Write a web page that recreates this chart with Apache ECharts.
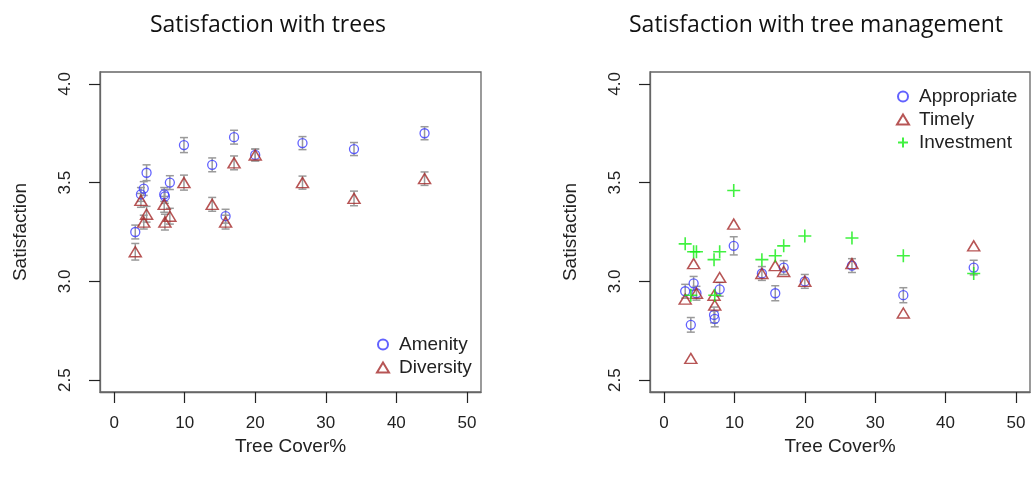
<!DOCTYPE html>
<html>
<head>
<meta charset="utf-8">
<script src="https://cdn.jsdelivr.net/npm/echarts@6/dist/echarts.min.js"></script>
<style>
  html, body { margin: 0; padding: 0; background: #fff; }
  #chart { width: 1031px; height: 487px; }
</style>
</head>
<body>
<div id="chart"></div>
<script>
// tree cover (%) of the 15 sites, shared by both panels
const treeCover = [3.0, 3.8, 4.2, 4.6, 7.1, 7.2, 7.9, 9.9, 13.9, 15.8, 17.0, 20.0, 26.7, 34.0, 44.0];

// left panel: satisfaction with trees
const amenity   = [3.25, 3.44, 3.47, 3.55, 3.44, 3.43, 3.50, 3.69, 3.59, 3.33, 3.73, 3.64, 3.70, 3.67, 3.75];
const amenityErr = [0.035, 0.035, 0.035, 0.04, 0.035, 0.035, 0.035, 0.038, 0.035, 0.035, 0.035, 0.03, 0.033, 0.033, 0.033];
const diversity = [3.15, 3.41, 3.30, 3.34, 3.39, 3.30, 3.33, 3.50, 3.39, 3.30, 3.60, 3.64, 3.50, 3.42, 3.52];
const diversityErr = [0.042, 0.035, 0.035, 0.04, 0.04, 0.04, 0.04, 0.038, 0.035, 0.035, 0.035, 0.03, 0.033, 0.037, 0.034];

// right panel: satisfaction with tree management
const appropriate = [2.95, 2.78, 2.99, 2.94, 2.83, 2.81, 2.96, 3.18, 3.04, 2.94, 3.07, 3.00, 3.08, 2.93, 3.07];
const appropriateErr = [0.035, 0.037, 0.035, 0.035, 0.04, 0.04, 0.035, 0.046, 0.035, 0.038, 0.035, 0.035, 0.035, 0.038, 0.037];
const timely     = [2.91, 2.61, 3.09, 2.94, 2.93, 2.88, 3.02, 3.29, 3.04, 3.08, 3.05, 3.00, 3.09, 2.84, 3.18];
const investment = [3.19, 2.93, 3.15, 3.15, 3.11, 2.93, 3.15, 3.46, 3.11, 3.13, 3.18, 3.23, 3.22, 3.13, 3.04];

const xTicks = [0, 10, 20, 30, 40, 50];
const yTicks = [2.5, 3.0, 3.5, 4.0];

const BLUE = '#3b3bff';
const RED = '#a52a2a';
const GREEN = '#11ee11';
const labelFont = 'Liberation Sans';

const pts = (ys) => treeCover.map((x, i) => [x, ys[i]]);
const bars = (ys, es) => treeCover.map((x, i) => [x, ys[i] - es[i], ys[i] + es[i]]);

function errorBars(ys, es, idx) {
  return {
    type: 'custom',
    xAxisIndex: idx,
    yAxisIndex: idx,
    silent: true,
    z: 1,
    data: bars(ys, es),
    renderItem: (params, api) => {
      const lo = api.coord([api.value(0), api.value(1)]);
      const hi = api.coord([api.value(0), api.value(2)]);
      const st = { stroke: '#9a9a9a', lineWidth: 1.5 };
      return {
        type: 'group',
        children: [
          { type: 'line', shape: { x1: lo[0], y1: lo[1], x2: hi[0], y2: hi[1] }, style: st },
          { type: 'line', shape: { x1: lo[0] - 4, y1: lo[1], x2: lo[0] + 4, y2: lo[1] }, style: st },
          { type: 'line', shape: { x1: hi[0] - 4, y1: hi[1], x2: hi[0] + 4, y2: hi[1] }, style: st }
        ]
      };
    }
  };
}

const axisLine = { show: true, onZero: false, lineStyle: { color: '#666', width: 1.3 } };

function xAxis(idx) {
  return {
    type: 'value', gridIndex: idx, min: -2, max: 52,
    axisLine: axisLine,
    splitLine: { show: false },
    axisTick: { show: true, inside: false, customValues: xTicks, length: 11, lineStyle: { color: '#222', width: 1.2 } },
    axisLabel: { customValues: xTicks, margin: 23, fontFamily: labelFont, fontSize: 17, color: '#222' },
    name: 'Tree Cover%', nameLocation: 'middle', nameGap: 44,
    nameTextStyle: { fontFamily: labelFont, fontSize: 19, color: '#222' }
  };
}

function yAxis(idx) {
  return {
    type: 'value', gridIndex: idx, min: 2.44, max: 4.06,
    axisLine: axisLine,
    splitLine: { show: false },
    axisTick: { show: true, inside: false, customValues: yTicks, length: 11, lineStyle: { color: '#222', width: 1.2 } },
    axisLabel: {
      customValues: yTicks, rotate: 90, margin: 26,
      fontFamily: labelFont, fontSize: 17, color: '#222',
      formatter: (v) => v.toFixed(1)
    },
    name: 'Satisfaction', nameLocation: 'middle', nameGap: 70,
    nameTextStyle: { fontFamily: labelFont, fontSize: 19, color: '#222' }
  };
}

const circleStyle = { color: 'rgba(0,0,0,0)', borderColor: BLUE, borderWidth: 1.3 };
const triStyle = { color: 'rgba(0,0,0,0)', borderColor: RED, borderWidth: 1.5 };
const crossStyle = { color: 'rgba(0,0,0,0)', borderColor: GREEN, borderWidth: 1.6 };
const crossPath = 'path://M0,6H12M6,0V12';

const legendText = { fontFamily: labelFont, fontSize: 19, color: '#222', padding: [0, 0, 0, 5] };
const titleStyle = { fontFamily: 'Open Sans', fontSize: 23, fill: '#111', textAlign: 'center', textVerticalAlign: 'middle' };

const chart = echarts.init(document.getElementById('chart'), null, { renderer: 'canvas' });

chart.setOption({
  animation: false,
  backgroundColor: '#fff',
  graphic: [
    { type: 'text', x: 268, y: 25, style: Object.assign({ text: 'Satisfaction with trees' }, titleStyle) },
    { type: 'text', x: 816, y: 25, style: Object.assign({ text: 'Satisfaction with tree management' }, titleStyle) }
  ],
  grid: [
    { left: 100, top: 72, width: 381, height: 320, show: true, borderColor: '#666', borderWidth: 1.3, backgroundColor: 'transparent' },
    { left: 650, top: 72, width: 380, height: 320, show: true, borderColor: '#666', borderWidth: 1.3, backgroundColor: 'transparent' }
  ],
  xAxis: [xAxis(0), xAxis(1)],
  yAxis: [yAxis(0), yAxis(1)],
  legend: [
    {
      data: ['Amenity', 'Diversity'], orient: 'vertical', left: 376, top: 335,
      itemWidth: 12, itemHeight: 10, itemGap: 4, padding: 0,
      textStyle: legendText
    },
    {
      data: ['Appropriate', 'Timely', 'Investment'], orient: 'vertical', left: 896, top: 87,
      itemWidth: 12, itemHeight: 10, itemGap: 4, padding: 0,
      textStyle: legendText
    }
  ],
  series: [
    errorBars(amenity, amenityErr, 0),
    errorBars(diversity, diversityErr, 0),
    errorBars(appropriate, appropriateErr, 1),
    { name: 'Amenity', type: 'scatter', xAxisIndex: 0, yAxisIndex: 0, z: 3, symbol: 'circle', symbolSize: 9, itemStyle: circleStyle, data: pts(amenity) },
    { name: 'Diversity', type: 'scatter', xAxisIndex: 0, yAxisIndex: 0, z: 3, symbol: 'triangle', symbolSize: [12, 10], itemStyle: triStyle, data: pts(diversity) },
    { name: 'Appropriate', type: 'scatter', xAxisIndex: 1, yAxisIndex: 1, z: 3, symbol: 'circle', symbolSize: 9, itemStyle: circleStyle, data: pts(appropriate) },
    { name: 'Timely', type: 'scatter', xAxisIndex: 1, yAxisIndex: 1, z: 3, symbol: 'triangle', symbolSize: [12, 10], itemStyle: triStyle, data: pts(timely) },
    { name: 'Investment', type: 'scatter', xAxisIndex: 1, yAxisIndex: 1, z: 4, symbol: crossPath, symbolSize: 13, itemStyle: crossStyle, data: pts(investment) }
  ]
});
</script>
</body>
</html>
